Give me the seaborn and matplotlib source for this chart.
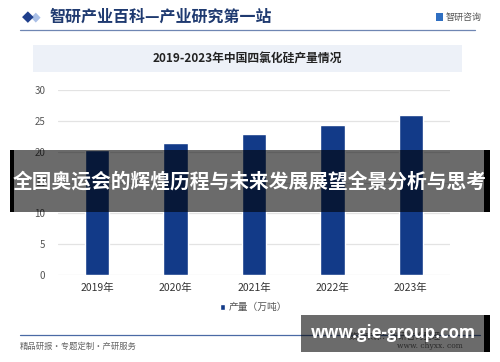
import matplotlib
matplotlib.use("Agg")
import matplotlib.pyplot as plt
from matplotlib.patches import Rectangle
import seaborn as sns
import pandas as pd

years = ["2019年", "2020年", "2021年", "2022年", "2023年"]
output = [20.2, 21.4, 22.8, 24.3, 26.0]
yticks = [0, 5, 10, 15, 20, 25, 30]
legend_label = "产量（万吨）"
header_title = "智研产业百科—产业研究第一站"
chart_title = "2019-2023年中国四氯化硅产量情况"
brand = "智研咨询"
footer_left = "精品研报・专题定制・产研服务"
source_text = "数据来源：智研咨询整理"
source_url = "www. chyxx. com"
banner_text = "全国奥运会的辉煌历程与未来发展展望全景分析与思考"
url_text = "www.gie-group.com"

sns.set_theme(style="white")
plt.rcParams['font.family'] = ['Noto Sans CJK SC', 'DejaVu Sans']

W, H = 500, 362
fig = plt.figure(figsize=(W / 100, H / 100), dpi=100)
fig.patch.set_facecolor("white")

def fx(x):
    return x / W

def fy(y):
    return 1 - y / H

# header
fig.text(fx(28), fy(17), "◆", color="#1f3f8c", fontsize=11, ha="center", va="center",
         family=['DejaVu Sans'])
fig.text(fx(36), fy(17), "◆", color="#a9bfe6", fontsize=9, ha="center", va="center",
         family=['DejaVu Sans'], zorder=0)
fig.text(fx(50), fy(17), header_title, color="#1f3a70", fontsize=11.5, fontweight="bold",
         ha="left", va="center")
fig.add_artist(Rectangle((fx(436), fy(21)), fx(7), 8 / H, transform=fig.transFigure,
                         facecolor="#2f6fc2", edgecolor="none"))
fig.text(fx(446), fy(17), brand, color="#555555", fontsize=6.5, ha="left", va="center")
fig.add_artist(plt.Line2D([fx(20), fx(475)], [fy(30), fy(30)], transform=fig.transFigure,
                          color="#6f86b3", lw=0.9))

# title box
fig.add_artist(Rectangle((fx(33), fy(72)), fx(429), 27 / H, transform=fig.transFigure,
                         facecolor="#edf1f8", edgecolor="none"))
fig.text(fx(247), fy(59), chart_title, color="#222222", fontsize=8.5, fontweight="bold",
         ha="center", va="center")

# chart axes
ax = fig.add_axes([fx(58), fy(275), fx(392), 185 / H])
df = pd.DataFrame({"year": years, "value": output})
sns.barplot(data=df, x="year", y="value", color="#123a88", width=0.31, ax=ax,
            saturation=1, zorder=3, label=legend_label)
ax.set_ylim(0, 30)
ax.set_yticks(yticks)
ax.set_xlim(-0.5, len(years) - 0.5)
ax.set_xlabel("")
ax.set_ylabel("")
for s in ax.spines.values():
    s.set_visible(False)
ax.grid(axis="y", color="#e3e3e3", lw=0.9, zorder=0)
ax.tick_params(axis="y", length=0, pad=9, labelsize=7, labelcolor="#555555")
ax.tick_params(axis="x", length=0, pad=6, labelsize=7.5, labelcolor="#333333")
ax.set_facecolor("none")
leg = ax.legend(loc="upper center", bbox_to_anchor=(0.5, -0.1), frameon=False,
                fontsize=7, handlelength=0.5, handleheight=0.5, handletextpad=0.4,
                labelcolor="#555555")

# bottom line & footer
fig.add_artist(plt.Line2D([fx(20), fx(480)], [fy(335), fy(335)], transform=fig.transFigure,
                          color="#4a6aa5", lw=0.9))
fig.text(fx(20), fy(346), footer_left, color="#666666", fontsize=6, ha="left", va="center")
fig.text(fx(395), fy(336), source_text, color="#666666", fontsize=6, ha="center", va="center")
fig.text(fx(430), fy(346), source_url, color="#666666", fontsize=5.5, ha="center", va="center",
         family=['DejaVu Serif'])

# overlays
fig.add_artist(Rectangle((fx(10), fy(212)), fx(480), 62 / H, transform=fig.transFigure,
                         facecolor="black", alpha=0.58, edgecolor="none", zorder=10))
fig.add_artist(Rectangle((fx(10), fy(212)), fx(4), 62 / H, transform=fig.transFigure,
                         facecolor="black", edgecolor="none", zorder=11))
fig.add_artist(Rectangle((fx(484), fy(212)), fx(6), 62 / H, transform=fig.transFigure,
                         facecolor="black", edgecolor="none", zorder=11))
fig.text(fx(250), fy(182), banner_text, color="white", fontsize=14.2, fontweight="bold",
         ha="center", va="center", zorder=12)

fig.add_artist(Rectangle((fx(301), fy(352)), fx(189), 37 / H, transform=fig.transFigure,
                         facecolor="black", alpha=0.58, edgecolor="none", zorder=10))
fig.add_artist(Rectangle((fx(484), fy(352)), fx(6), 37 / H, transform=fig.transFigure,
                         facecolor="black", edgecolor="none", zorder=11))
fig.text(fx(393), fy(333), url_text, color="white", fontsize=12, fontweight="bold",
         ha="center", va="center", zorder=12, family=['Open Sans', 'DejaVu Sans'])

fig.savefig("out.png", dpi=100)
